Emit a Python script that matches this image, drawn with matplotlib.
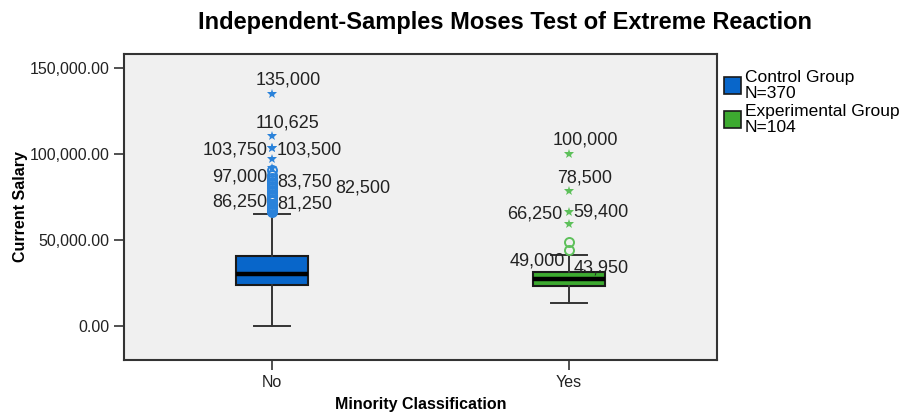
import matplotlib.pyplot as plt
from matplotlib.patches import Patch
from matplotlib.ticker import FuncFormatter

plt.rcParams['font.family'] = ['Liberation Sans', 'DejaVu Sans']

# summary statistics per group (Current Salary)
groups = ['No', 'Yes']
q1 = [23700, 23300]
medians = [30300, 27000]
q3 = [40600, 31100]
whisker_lo = [0, 13000]
whisker_hi = [65000, 41400]
group_n = [370, 104]
legend_names = ['Control Group', 'Experimental Group']

# outliers (circles) and extremes (stars)
outliers_no = [66000, 66750, 67500, 68125, 68750, 69250, 70000, 70875, 72500,
               73500, 73750, 75000, 76000, 78125, 78250, 80000, 81250, 82500,
               83750, 85000, 86250, 88000, 90625]
extremes_no = [92000, 97000, 103500, 103750, 110625, 135000]
outliers_yes = [43950, 49000]
extremes_yes = [59400, 66250, 78500, 100000]

# labelled cases: (group index, value, ha, dx px, dy px)
case_labels = [
    (0, 135000, 'left', -16.5, 16),
    (0, 110625, 'left', -16.5, 15),
    (0, 103750, 'right', -4.5, 0),
    (0, 103500, 'left', 4.5, 0),
    (0, 97000, 'right', -4.5, -16),
    (0, 83750, 'left', 5.5, 2),
    (0, 82500, 'left', 62.5, -2),
    (0, 86250, 'right', -4.5, -22),
    (0, 81250, 'left', 5.5, -15.7),
    (1, 100000, 'left', -16.3, 15.8),
    (1, 78500, 'left', -11.3, 15),
    (1, 66250, 'right', -6.3, 0),
    (1, 59400, 'left', 5, 14),
    (1, 49000, 'right', -4, -17),
    (1, 43950, 'left', 5, -16),
]

box_colors = ['#0866CA', '#3DAA30']
point_colors = ['#2A82DA', '#5DC05A']
edge = '#1a1a1a'

fig = plt.figure(figsize=(9.07, 4.15), dpi=100)
ax = fig.add_axes([124 / 907, 1 - 360 / 415, 593 / 907, 306 / 415])
ax.set_facecolor('#F0F0F0')

stats = []
for i, g in enumerate(groups):
    stats.append(dict(label=g, q1=q1[i], med=medians[i], q3=q3[i],
                      whislo=whisker_lo[i], whishi=whisker_hi[i], fliers=[]))

bp = ax.bxp(stats, positions=[1, 2], widths=0.243, patch_artist=True,
            showfliers=False,
            boxprops=dict(edgecolor=edge, linewidth=1.5),
            medianprops=dict(color='black', linewidth=3.2),
            whiskerprops=dict(color='#333333', linewidth=1.4),
            capprops=dict(color='#333333', linewidth=1.4),
            capwidths=0.122)
for patch, c in zip(bp['boxes'], box_colors):
    patch.set_facecolor(c)

for i, (outs, exts) in enumerate([(outliers_no, extremes_no),
                                  (outliers_yes, extremes_yes)]):
    ax.plot([i + 1] * len(outs), outs, 'o', mfc='none', mec=point_colors[i],
            mew=1.4, ms=6.5, zorder=3)
    ax.plot([i + 1] * len(exts), exts, '*', color=point_colors[i],
            ms=7.5, mew=0, zorder=3)

for gi, val, ha, dx, dy in case_labels:
    ax.annotate(f'{val:,}', xy=(gi + 1, val), xytext=(dx, dy - 6.5),
                textcoords='offset pixels', ha=ha, va='baseline',
                fontsize=13, color='#222222', zorder=4)

ax.set_xlim(0.5, 2.5)
ax.set_ylim(-20000, 158300)
ax.set_yticks([0, 50000, 100000, 150000])
ax.yaxis.set_major_formatter(FuncFormatter(lambda v, p: f'{v:,.2f}'))
ax.set_xticks([1, 2])
ax.set_xticklabels(groups)
ax.tick_params(axis='both', labelsize=11.5, colors='#333333', length=7,
               width=1.2, labelcolor='#222222')
for s in ax.spines.values():
    s.set_color('#333333')
    s.set_linewidth(1.5)

ax.set_ylabel('Current Salary', fontsize=11.5, fontweight='bold', labelpad=1)
ax.set_xlabel('Minority Classification', fontsize=11.5, fontweight='bold',
              labelpad=5)

fig.text(505 / 907, 1 - 22 / 415, 'Independent-Samples Moses Test of Extreme Reaction',
         ha='center', va='center', fontsize=17, fontweight='bold')

handles = [Patch(facecolor=c, edgecolor=edge, linewidth=1.2) for c in box_colors]
labels = [f'{nm}\nN={n}' for nm, n in zip(legend_names, group_n)]
fig.legend(handles, labels, loc='upper left',
           bbox_to_anchor=(724 / 907, 1 - 70 / 415), frameon=False,
           fontsize=12.5, handlelength=1.0, handleheight=1.15,
           handletextpad=0.2, labelspacing=0.2, borderpad=0,
           borderaxespad=0)
for t in fig.legends[0].get_texts():
    t.set_linespacing(1.05)

fig.savefig('out.png', dpi=100)
